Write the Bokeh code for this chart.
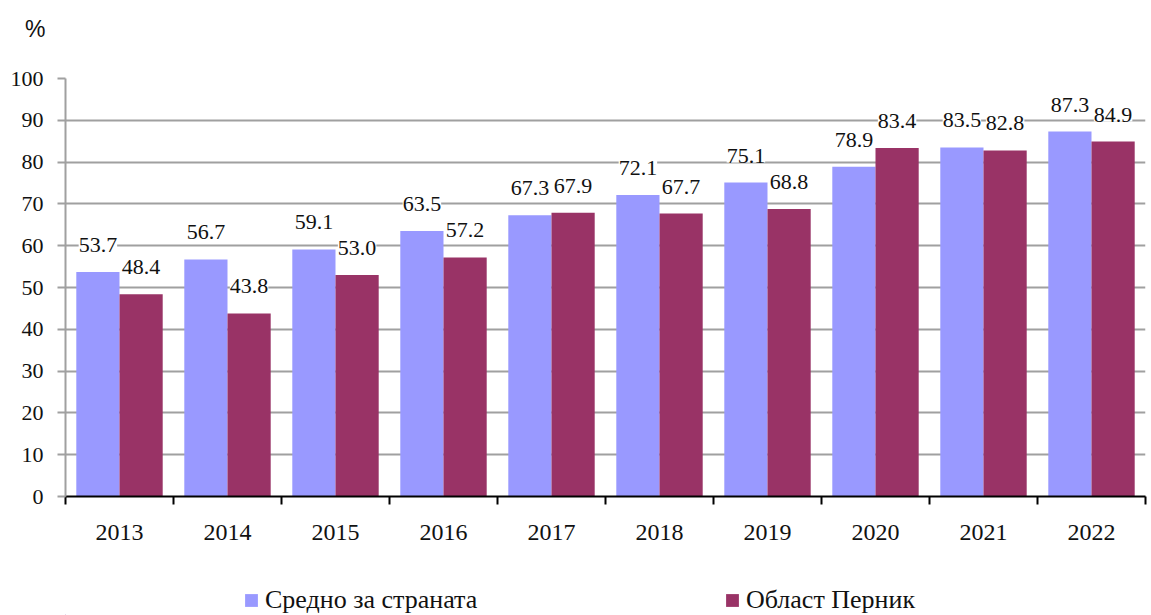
from bokeh.plotting import figure
from bokeh.layouts import column
from bokeh.models import (Range1d, FixedTicker, ColumnDataSource, LabelSet, Legend, LegendItem)
from bokeh.core.properties import value
from bokeh.embed import file_html
from bokeh.resources import INLINE

years = ["2013", "2014", "2015", "2016", "2017", "2018", "2019", "2020", "2021", "2022"]
country = [53.7, 56.7, 59.1, 63.5, 67.3, 72.1, 75.1, 78.9, 83.5, 87.3]
pernik = [48.4, 43.8, 53.0, 57.2, 67.9, 67.7, 68.8, 83.4, 82.8, 84.9]
y_ticks = [0, 10, 20, 30, 40, 50, 60, 70, 80, 90, 100]
series_names = ["Средно за страната", "Област Перник"]
unit_label = "%"
colors = ["#9999FF", "#993366"]

FONT = "Liberation Serif"
SANS = "Liberation Sans"
W = 1151

# ---- top strip: the unit label as the single tick label of a left axis ----
top = figure(width=W, height=50, output_backend="svg", toolbar_location=None,
             x_range=Range1d(0, 1), y_range=Range1d(0, 50),
             x_axis_location=None, y_axis_location="left",
             min_border=0, min_border_right=6, outline_line_color=None)
top.grid.visible = False
ua = top.yaxis[0]
ua.ticker = FixedTicker(ticks=[22])
ua.major_label_overrides = {22: unit_label}
ua.axis_line_color = None
ua.major_tick_line_color = None
ua.minor_tick_line_color = None
ua.major_tick_out = 0
ua.major_tick_in = 0
ua.major_label_standoff = 20
ua.major_label_text_font = SANS
ua.major_label_text_font_size = "23px"
ua.major_label_text_color = "#111111"

# ---- main chart ----
p = figure(width=W, height=510, output_backend="svg", toolbar_location=None,
           x_range=Range1d(0, len(years)), y_range=Range1d(0, 100),
           min_border_left=65, min_border_right=6, min_border_top=28, min_border_bottom=64)
p.outline_line_color = None
p.xgrid.grid_line_color = None
p.ygrid.grid_line_color = "#a0a0a0"
p.ygrid.grid_line_width = 2
p.ygrid.ticker = FixedTicker(ticks=y_ticks)

centers = [i + 0.5 for i in range(len(years))]
xa = [c - 0.2 for c in centers]
xb = [c + 0.2 for c in centers]

src_a = ColumnDataSource(dict(x=xa, top=country, text=[f"{v:.1f}" for v in country]))
src_b = ColumnDataSource(dict(x=xb, top=pernik, text=[f"{v:.1f}" for v in pernik]))

p.vbar(x="x", top="top", width=0.4, source=src_a, fill_color=colors[0], line_color=None)
p.vbar(x="x", top="top", width=0.4, source=src_b, fill_color=colors[1], line_color=None)

for src in (src_a, src_b):
    ls = LabelSet(x="x", y="top", text="text", source=src, y_offset=20,
                  text_align="center", text_baseline="alphabetic",
                  text_font=value(FONT), text_font_size="22px", text_color="#111111",
                  background_fill_color="white")
    try:
        ls.padding = 4
    except Exception:
        pass
    p.add_layout(ls)

yax = p.yaxis[0]
yax.ticker = FixedTicker(ticks=y_ticks)
yax.axis_line_color = "#a0a0a0"
yax.axis_line_width = 2
yax.major_tick_line_color = "#a0a0a0"
yax.major_tick_line_width = 2
yax.major_tick_out = 8
yax.major_tick_in = 0
yax.minor_tick_line_color = None
yax.major_label_standoff = 14
yax.major_label_text_font = FONT
yax.major_label_text_font_size = "22px"
yax.major_label_text_color = "#111111"

xax = p.xaxis[0]
xax.ticker = FixedTicker(ticks=centers, minor_ticks=list(range(len(years) + 1)))
xax.major_label_overrides = {c: y for c, y in zip(centers, years)}
xax.axis_line_color = "black"
xax.axis_line_width = 2
xax.major_tick_line_color = None
xax.major_tick_out = 0
xax.major_tick_in = 0
xax.minor_tick_line_color = "black"
xax.minor_tick_line_width = 2
xax.minor_tick_out = 8
xax.minor_tick_in = 0
xax.major_label_standoff = 20
xax.major_label_text_font = FONT
xax.major_label_text_font_size = "24px"
xax.major_label_text_color = "#111111"

# ---- bottom strip with the legend (its frame is aligned with the chart frame) ----
leg = figure(width=W, height=55, output_backend="svg", toolbar_location=None,
             x_range=Range1d(0, 1), y_range=Range1d(0, 55),
             x_axis_location=None, y_axis_location=None,
             min_border=0, outline_line_color=None)
leg.grid.visible = False
dummy_a = leg.vbar(x=[-100], top=[1], width=1, fill_color=colors[0], line_color=None)
dummy_b = leg.vbar(x=[-100], top=[1], width=1, fill_color=colors[1], line_color=None)
for r, name, xpos in ((dummy_a, series_names[0], 178), (dummy_b, series_names[1], 659)):
    leg.add_layout(Legend(items=[LegendItem(label=name, renderers=[r])], location=(xpos, 0),
                          orientation="horizontal", glyph_width=16, glyph_height=16,
                          label_text_font=FONT, label_text_font_size="26px",
                          label_text_color="#111111", label_standoff=6, padding=0, margin=0,
                          border_line_color=None, background_fill_alpha=0, spacing=0))

open("out.html", "w").write(file_html(column(top, p, leg), INLINE))
